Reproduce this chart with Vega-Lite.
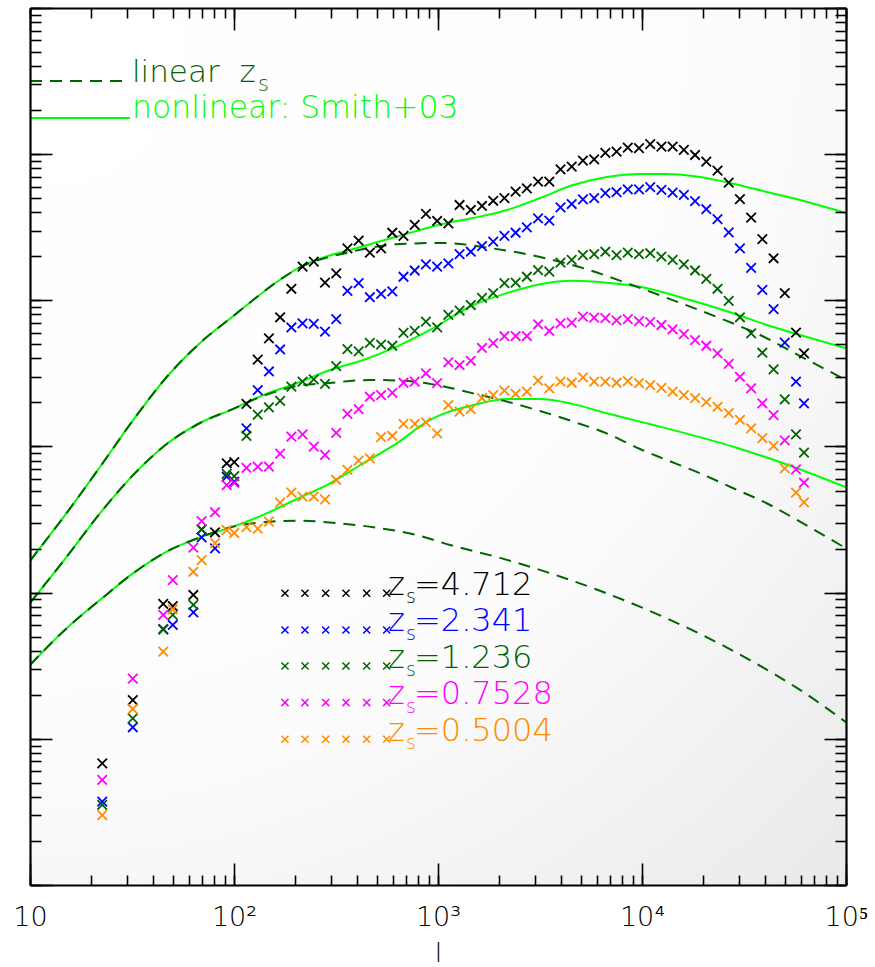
{
  "$schema": "https://vega.github.io/schema/vega-lite/v6.json",
  "width": 816,
  "height": 877,
  "autosize": {"type": "none"},
  "padding": {"left": 30, "top": 8, "right": 29, "bottom": 82},
  "background": "#ffffff",
  "config": {"view": {"stroke": null}, "font": "DejaVu Sans"},
  "datasets": {
    "pts": [
      {"z":"4.712","l":22.6,"P":6.8e-7},{"z":"4.712","l":31.9,"P":1.84e-6},{"z":"4.712","l":45.0,"P":8.37e-6},{"z":"4.712","l":50.1,"P":8.10e-6},{"z":"4.712","l":63.2,"P":9.64e-6},{"z":"4.712","l":69.4,"P":2.71e-5},{"z":"4.712","l":80.7,"P":2.59e-5},{"z":"4.712","l":92.1,"P":7.68e-5},{"z":"4.712","l":100.3,"P":7.83e-5},
      {"z":"4.712","l":115.1,"P":1.96e-4},{"z":"4.712","l":130.7,"P":3.93e-4},{"z":"4.712","l":148.3,"P":5.50e-4},{"z":"4.712","l":168.3,"P":7.66e-4},{"z":"4.712","l":191.1,"P":1.20e-3},{"z":"4.712","l":216.8,"P":1.70e-3},{"z":"4.712","l":246.1,"P":1.84e-3},{"z":"4.712","l":279.3,"P":1.32e-3},{"z":"4.712","l":317.0,"P":1.53e-3},{"z":"4.712","l":359.8,"P":2.27e-3},
      {"z":"4.712","l":408.3,"P":2.56e-3},{"z":"4.712","l":463.4,"P":2.12e-3},{"z":"4.712","l":525.9,"P":2.27e-3},{"z":"4.712","l":597.0,"P":2.90e-3},{"z":"4.712","l":677.4,"P":2.76e-3},{"z":"4.712","l":768.8,"P":3.28e-3},{"z":"4.712","l":872.6,"P":3.90e-3},{"z":"4.712","l":990.3,"P":3.49e-3},{"z":"4.712","l":1124,"P":3.36e-3},{"z":"4.712","l":1276,"P":4.49e-3},
      {"z":"4.712","l":1448,"P":4.15e-3},{"z":"4.712","l":1643,"P":4.42e-3},{"z":"4.712","l":1865,"P":4.80e-3},{"z":"4.712","l":2116,"P":5.00e-3},{"z":"4.712","l":2402,"P":5.54e-3},{"z":"4.712","l":2726,"P":5.84e-3},{"z":"4.712","l":3094,"P":6.48e-3},{"z":"4.712","l":3512,"P":6.48e-3},{"z":"4.712","l":3986,"P":7.88e-3},{"z":"4.712","l":4523,"P":8.21e-3},
      {"z":"4.712","l":5133,"P":9.03e-3},{"z":"4.712","l":5826,"P":9.22e-3},{"z":"4.712","l":6612,"P":1.02e-2},{"z":"4.712","l":7504,"P":1.04e-2},{"z":"4.712","l":8517,"P":1.11e-2},{"z":"4.712","l":9666,"P":1.10e-2},{"z":"4.712","l":10970,"P":1.17e-2},{"z":"4.712","l":12450,"P":1.125e-2},{"z":"4.712","l":14130,"P":1.125e-2},{"z":"4.712","l":16040,"P":1.07e-2},
      {"z":"4.712","l":18200,"P":9.87e-3},{"z":"4.712","l":20660,"P":8.88e-3},{"z":"4.712","l":23450,"P":7.71e-3},{"z":"4.712","l":26610,"P":6.38e-3},{"z":"4.712","l":30200,"P":4.93e-3},{"z":"4.712","l":34270,"P":3.68e-3},{"z":"4.712","l":38900,"P":2.62e-3},{"z":"4.712","l":44150,"P":1.94e-3},{"z":"4.712","l":50110,"P":1.12e-3},{"z":"4.712","l":56870,"P":6.01e-4},{"z":"4.712","l":62250,"P":4.34e-4},

      {"z":"2.341","l":22.6,"P":3.72e-7},{"z":"2.341","l":31.9,"P":1.20e-6},{"z":"2.341","l":45.0,"P":5.62e-6},{"z":"2.341","l":50.1,"P":6.01e-6},{"z":"2.341","l":63.2,"P":7.34e-6},{"z":"2.341","l":69.4,"P":2.39e-5},{"z":"2.341","l":80.7,"P":2.01e-5},{"z":"2.341","l":92.1,"P":6.21e-5},{"z":"2.341","l":100.3,"P":5.74e-5},
      {"z":"2.341","l":115.1,"P":1.33e-4},{"z":"2.341","l":130.7,"P":2.43e-4},{"z":"2.341","l":148.3,"P":3.26e-4},{"z":"2.341","l":168.3,"P":4.61e-4},{"z":"2.341","l":191.1,"P":6.52e-4},{"z":"2.341","l":216.8,"P":6.96e-4},{"z":"2.341","l":246.1,"P":6.89e-4},{"z":"2.341","l":279.3,"P":6.10e-4},{"z":"2.341","l":317.0,"P":7.45e-4},{"z":"2.341","l":359.8,"P":1.16e-3},
      {"z":"2.341","l":408.3,"P":1.31e-3},{"z":"2.341","l":463.4,"P":1.05e-3},{"z":"2.341","l":525.9,"P":1.105e-3},{"z":"2.341","l":597.0,"P":1.15e-3},{"z":"2.341","l":677.4,"P":1.45e-3},{"z":"2.341","l":768.8,"P":1.60e-3},{"z":"2.341","l":872.6,"P":1.76e-3},{"z":"2.341","l":990.3,"P":1.70e-3},{"z":"2.341","l":1124,"P":1.79e-3},{"z":"2.341","l":1276,"P":2.07e-3},
      {"z":"2.341","l":1448,"P":2.15e-3},{"z":"2.341","l":1643,"P":2.35e-3},{"z":"2.341","l":1865,"P":2.52e-3},{"z":"2.341","l":2116,"P":2.76e-3},{"z":"2.341","l":2402,"P":2.90e-3},{"z":"2.341","l":2726,"P":3.16e-3},{"z":"2.341","l":3094,"P":3.64e-3},{"z":"2.341","l":3512,"P":3.51e-3},{"z":"2.341","l":3986,"P":4.33e-3},{"z":"2.341","l":4523,"P":4.56e-3},
      {"z":"2.341","l":5133,"P":4.91e-3},{"z":"2.341","l":5826,"P":5.00e-3},{"z":"2.341","l":6612,"P":5.42e-3},{"z":"2.341","l":7504,"P":5.49e-3},{"z":"2.341","l":8517,"P":5.75e-3},{"z":"2.341","l":9666,"P":5.75e-3},{"z":"2.341","l":10970,"P":5.94e-3},{"z":"2.341","l":12450,"P":5.69e-3},{"z":"2.341","l":14130,"P":5.45e-3},{"z":"2.341","l":16040,"P":5.26e-3},
      {"z":"2.341","l":18200,"P":4.78e-3},{"z":"2.341","l":20660,"P":4.20e-3},{"z":"2.341","l":23450,"P":3.60e-3},{"z":"2.341","l":26610,"P":2.92e-3},{"z":"2.341","l":30200,"P":2.27e-3},{"z":"2.341","l":34270,"P":1.67e-3},{"z":"2.341","l":38900,"P":1.18e-3},{"z":"2.341","l":44150,"P":8.72e-4},{"z":"2.341","l":50110,"P":5.13e-4},{"z":"2.341","l":56870,"P":2.78e-4},{"z":"2.341","l":62250,"P":1.97e-4},

      {"z":"1.236","l":22.6,"P":3.53e-7},{"z":"1.236","l":31.9,"P":1.38e-6},{"z":"1.236","l":45.0,"P":5.62e-6},{"z":"1.236","l":50.1,"P":7.04e-6},{"z":"1.236","l":63.2,"P":8.24e-6},{"z":"1.236","l":69.4,"P":2.70e-5},{"z":"1.236","l":92.1,"P":6.49e-5},{"z":"1.236","l":100.3,"P":6.28e-5},
      {"z":"1.236","l":115.1,"P":1.18e-4},{"z":"1.236","l":130.7,"P":1.65e-4},{"z":"1.236","l":148.3,"P":1.85e-4},{"z":"1.236","l":168.3,"P":2.05e-4},{"z":"1.236","l":191.1,"P":2.57e-4},{"z":"1.236","l":216.8,"P":2.78e-4},{"z":"1.236","l":246.1,"P":2.88e-4},{"z":"1.236","l":279.3,"P":2.68e-4},{"z":"1.236","l":317.0,"P":3.55e-4},{"z":"1.236","l":359.8,"P":4.63e-4},
      {"z":"1.236","l":408.3,"P":4.47e-4},{"z":"1.236","l":463.4,"P":5.12e-4},{"z":"1.236","l":525.9,"P":4.97e-4},{"z":"1.236","l":597.0,"P":4.89e-4},{"z":"1.236","l":677.4,"P":5.98e-4},{"z":"1.236","l":768.8,"P":6.19e-4},{"z":"1.236","l":872.6,"P":7.14e-4},{"z":"1.236","l":990.3,"P":6.54e-4},{"z":"1.236","l":1124,"P":7.94e-4},{"z":"1.236","l":1276,"P":8.49e-4},
      {"z":"1.236","l":1448,"P":9.29e-4},{"z":"1.236","l":1643,"P":1.04e-3},{"z":"1.236","l":1865,"P":1.12e-3},{"z":"1.236","l":2116,"P":1.31e-3},{"z":"1.236","l":2402,"P":1.32e-3},{"z":"1.236","l":2726,"P":1.45e-3},{"z":"1.236","l":3094,"P":1.61e-3},{"z":"1.236","l":3512,"P":1.57e-3},{"z":"1.236","l":3986,"P":1.81e-3},{"z":"1.236","l":4523,"P":1.89e-3},
      {"z":"1.236","l":5133,"P":2.04e-3},{"z":"1.236","l":5826,"P":2.07e-3},{"z":"1.236","l":6612,"P":2.15e-3},{"z":"1.236","l":7504,"P":2.04e-3},{"z":"1.236","l":8517,"P":2.12e-3},{"z":"1.236","l":9666,"P":2.07e-3},{"z":"1.236","l":10970,"P":2.10e-3},{"z":"1.236","l":12450,"P":1.99e-3},{"z":"1.236","l":14130,"P":1.89e-3},{"z":"1.236","l":16040,"P":1.76e-3},
      {"z":"1.236","l":18200,"P":1.60e-3},{"z":"1.236","l":20660,"P":1.40e-3},{"z":"1.236","l":23450,"P":1.20e-3},{"z":"1.236","l":26610,"P":9.93e-4},{"z":"1.236","l":30200,"P":7.66e-4},{"z":"1.236","l":34270,"P":5.95e-4},{"z":"1.236","l":38900,"P":4.38e-4},{"z":"1.236","l":44150,"P":3.37e-4},{"z":"1.236","l":50110,"P":2.10e-4},{"z":"1.236","l":56870,"P":1.21e-4},{"z":"1.236","l":62250,"P":9.07e-5},

      {"z":"0.7528","l":22.6,"P":5.23e-7},{"z":"0.7528","l":31.9,"P":2.58e-6},{"z":"0.7528","l":45.0,"P":7.04e-6},{"z":"0.7528","l":50.1,"P":1.22e-5},{"z":"0.7528","l":63.2,"P":2.03e-5},{"z":"0.7528","l":69.4,"P":3.09e-5},{"z":"0.7528","l":80.7,"P":3.55e-5},{"z":"0.7528","l":92.1,"P":5.45e-5},{"z":"0.7528","l":100.3,"P":5.63e-5},
      {"z":"0.7528","l":115.1,"P":7.13e-5},{"z":"0.7528","l":130.7,"P":7.27e-5},{"z":"0.7528","l":148.3,"P":7.27e-5},{"z":"0.7528","l":168.3,"P":8.93e-5},{"z":"0.7528","l":191.1,"P":1.17e-4},{"z":"0.7528","l":216.8,"P":1.21e-4},{"z":"0.7528","l":246.1,"P":9.97e-5},{"z":"0.7528","l":279.3,"P":8.75e-5},{"z":"0.7528","l":317.0,"P":1.24e-4},{"z":"0.7528","l":359.8,"P":1.67e-4},
      {"z":"0.7528","l":408.3,"P":1.80e-4},{"z":"0.7528","l":463.4,"P":2.19e-4},{"z":"0.7528","l":525.9,"P":2.25e-4},{"z":"0.7528","l":597.0,"P":2.33e-4},{"z":"0.7528","l":677.4,"P":2.73e-4},{"z":"0.7528","l":768.8,"P":2.78e-4},{"z":"0.7528","l":872.6,"P":3.17e-4},{"z":"0.7528","l":990.3,"P":2.71e-4},{"z":"0.7528","l":1124,"P":3.77e-4},{"z":"0.7528","l":1276,"P":3.61e-4},
      {"z":"0.7528","l":1448,"P":3.86e-4},{"z":"0.7528","l":1643,"P":4.72e-4},{"z":"0.7528","l":1865,"P":5.09e-4},{"z":"0.7528","l":2116,"P":5.68e-4},{"z":"0.7528","l":2402,"P":5.70e-4},{"z":"0.7528","l":2726,"P":5.70e-4},{"z":"0.7528","l":3094,"P":6.86e-4},{"z":"0.7528","l":3512,"P":6.17e-4},{"z":"0.7528","l":3986,"P":6.96e-4},{"z":"0.7528","l":4523,"P":7.03e-4},
      {"z":"0.7528","l":5133,"P":7.73e-4},{"z":"0.7528","l":5826,"P":7.61e-4},{"z":"0.7528","l":6612,"P":7.55e-4},{"z":"0.7528","l":7504,"P":7.30e-4},{"z":"0.7528","l":8517,"P":7.43e-4},{"z":"0.7528","l":9666,"P":7.20e-4},{"z":"0.7528","l":10970,"P":7.09e-4},{"z":"0.7528","l":12450,"P":6.78e-4},{"z":"0.7528","l":14130,"P":6.34e-4},{"z":"0.7528","l":16040,"P":5.88e-4},
      {"z":"0.7528","l":18200,"P":5.35e-4},{"z":"0.7528","l":20660,"P":4.89e-4},{"z":"0.7528","l":23450,"P":4.34e-4},{"z":"0.7528","l":26610,"P":3.67e-4},{"z":"0.7528","l":30200,"P":3.00e-4},{"z":"0.7528","l":34270,"P":2.50e-4},{"z":"0.7528","l":38900,"P":1.97e-4},{"z":"0.7528","l":44150,"P":1.64e-4},{"z":"0.7528","l":50110,"P":1.10e-4},{"z":"0.7528","l":56870,"P":6.98e-5},{"z":"0.7528","l":62250,"P":5.65e-5},

      {"z":"0.5004","l":22.6,"P":3.01e-7},{"z":"0.5004","l":31.9,"P":1.60e-6},{"z":"0.5004","l":45.0,"P":3.95e-6},{"z":"0.5004","l":50.1,"P":7.70e-6},{"z":"0.5004","l":63.2,"P":1.39e-5},{"z":"0.5004","l":69.4,"P":1.67e-5},{"z":"0.5004","l":80.7,"P":2.18e-5},{"z":"0.5004","l":92.1,"P":2.68e-5},{"z":"0.5004","l":100.3,"P":2.56e-5},
      {"z":"0.5004","l":115.1,"P":2.81e-5},{"z":"0.5004","l":130.7,"P":2.74e-5},{"z":"0.5004","l":148.3,"P":3.06e-5},{"z":"0.5004","l":168.3,"P":4.13e-5},{"z":"0.5004","l":191.1,"P":4.83e-5},{"z":"0.5004","l":216.8,"P":4.54e-5},{"z":"0.5004","l":246.1,"P":4.54e-5},{"z":"0.5004","l":279.3,"P":4.35e-5},{"z":"0.5004","l":317.0,"P":5.90e-5},{"z":"0.5004","l":359.8,"P":6.91e-5},
      {"z":"0.5004","l":408.3,"P":8.00e-5},{"z":"0.5004","l":463.4,"P":8.30e-5},{"z":"0.5004","l":525.9,"P":1.16e-4},{"z":"0.5004","l":597.0,"P":1.18e-4},{"z":"0.5004","l":677.4,"P":1.43e-4},{"z":"0.5004","l":768.8,"P":1.43e-4},{"z":"0.5004","l":872.6,"P":1.46e-4},{"z":"0.5004","l":990.3,"P":1.23e-4},{"z":"0.5004","l":1124,"P":1.92e-4},{"z":"0.5004","l":1276,"P":1.73e-4},
      {"z":"0.5004","l":1448,"P":1.80e-4},{"z":"0.5004","l":1643,"P":2.14e-4},{"z":"0.5004","l":1865,"P":2.25e-4},{"z":"0.5004","l":2116,"P":2.41e-4},{"z":"0.5004","l":2402,"P":2.29e-4},{"z":"0.5004","l":2726,"P":2.37e-4},{"z":"0.5004","l":3094,"P":2.82e-4},{"z":"0.5004","l":3512,"P":2.50e-4},{"z":"0.5004","l":3986,"P":2.78e-4},{"z":"0.5004","l":4523,"P":2.73e-4},
      {"z":"0.5004","l":5133,"P":2.97e-4},{"z":"0.5004","l":5826,"P":2.78e-4},{"z":"0.5004","l":6612,"P":2.78e-4},{"z":"0.5004","l":7504,"P":2.73e-4},{"z":"0.5004","l":8517,"P":2.80e-4},{"z":"0.5004","l":9666,"P":2.71e-4},{"z":"0.5004","l":10970,"P":2.63e-4},{"z":"0.5004","l":12450,"P":2.52e-4},{"z":"0.5004","l":14130,"P":2.37e-4},{"z":"0.5004","l":16040,"P":2.25e-4},
      {"z":"0.5004","l":18200,"P":2.14e-4},{"z":"0.5004","l":20660,"P":2.01e-4},{"z":"0.5004","l":23450,"P":1.87e-4},{"z":"0.5004","l":26610,"P":1.69e-4},{"z":"0.5004","l":30200,"P":1.52e-4},{"z":"0.5004","l":34270,"P":1.33e-4},{"z":"0.5004","l":38900,"P":1.14e-4},{"z":"0.5004","l":44150,"P":1.01e-4},{"z":"0.5004","l":50110,"P":7.09e-5},{"z":"0.5004","l":56870,"P":4.83e-5},{"z":"0.5004","l":62250,"P":4.15e-5}
    ],
    "nl": [
      {"c":"a","l":10,"P":1.65e-5},{"c":"a","l":15.13,"P":3.51e-5},{"c":"a","l":22.03,"P":7.24e-5},{"c":"a","l":32.09,"P":1.52e-4},{"c":"a","l":46.78,"P":2.99e-4},{"c":"a","l":68.13,"P":5.11e-4},{"c":"a","l":99.2,"P":7.81e-4},{"c":"a","l":119.8,"P":9.665e-4},{"c":"a","l":158.9,"P":1.31e-3},{"c":"a","l":210.6,"P":1.69e-3},{"c":"a","l":279.3,"P":1.98e-3},{"c":"a","l":370.4,"P":2.21e-3},{"c":"a","l":629.5,"P":2.73e-3},{"c":"a","l":1107,"P":3.38e-3},{"c":"a","l":1484,"P":3.66e-3},{"c":"a","l":2179,"P":4.15e-3},{"c":"a","l":3162,"P":5.01e-3},{"c":"a","l":4589,"P":6.15e-3},{"c":"a","l":6737,"P":6.98e-3},{"c":"a","l":9777,"P":7.32e-3},{"c":"a","l":13265,"P":7.32e-3},{"c":"a","l":19246,"P":6.98e-3},{"c":"a","l":27010,"P":6.35e-3},{"c":"a","l":41000,"P":5.51e-3},{"c":"a","l":59500,"P":4.86e-3},{"c":"a","l":100000,"P":3.96e-3},
      {"c":"b","l":10,"P":8.50e-6},{"c":"b","l":15.13,"P":1.76e-5},{"c":"b","l":22.03,"P":3.49e-5},{"c":"b","l":32.09,"P":6.39e-5},{"c":"b","l":46.78,"P":1.04e-4},{"c":"b","l":68.13,"P":1.448e-4},{"c":"b","l":99.2,"P":1.81e-4},{"c":"b","l":139.2,"P":2.25e-4},{"c":"b","l":203,"P":2.71e-4},{"c":"b","l":295.6,"P":3.34e-4},{"c":"b","l":430.4,"P":3.91e-4},{"c":"b","l":627.4,"P":4.82e-4},{"c":"b","l":913.7,"P":6.27e-4},{"c":"b","l":1489,"P":9.29e-4},{"c":"b","l":2172,"P":1.12e-3},{"c":"b","l":3162,"P":1.29e-3},{"c":"b","l":4604,"P":1.36e-3},{"c":"b","l":6714,"P":1.32e-3},{"c":"b","l":9777,"P":1.24e-3},{"c":"b","l":17190,"P":1.005e-3},{"c":"b","l":28020,"P":8.15e-4},{"c":"b","l":40870,"P":6.78e-4},{"c":"b","l":59500,"P":5.79e-4},{"c":"b","l":100000,"P":4.70e-4},
      {"c":"c","l":10,"P":3.20e-6},{"c":"c","l":15.13,"P":5.71e-6},{"c":"c","l":22.03,"P":8.91e-6},{"c":"c","l":32.09,"P":1.36e-5},{"c":"c","l":46.78,"P":1.91e-5},{"c":"c","l":68.13,"P":2.39e-5},{"c":"c","l":99.2,"P":2.83e-5},{"c":"c","l":141.9,"P":3.45e-5},{"c":"c","l":205.9,"P":4.41e-5},{"c":"c","l":295.6,"P":5.60e-5},{"c":"c","l":430.4,"P":7.68e-5},{"c":"c","l":627.4,"P":1.05e-4},{"c":"c","l":913.7,"P":1.52e-4},{"c":"c","l":1023,"P":1.64e-4},{"c":"c","l":1489,"P":1.92e-4},{"c":"c","l":2172,"P":2.11e-4},{"c":"c","l":3162,"P":2.11e-4},{"c":"c","l":4604,"P":1.95e-4},{"c":"c","l":6714,"P":1.69e-4},{"c":"c","l":9777,"P":1.48e-4},{"c":"c","l":13220,"P":1.33e-4},{"c":"c","l":28020,"P":9.97e-5},{"c":"c","l":49270,"P":7.68e-5},{"c":"c","l":100000,"P":5.26e-5}
    ],
    "lin": [
      {"c":"a","l":10,"P":1.65e-5},{"c":"a","l":15.13,"P":3.51e-5},{"c":"a","l":22.03,"P":7.24e-5},{"c":"a","l":32.09,"P":1.52e-4},{"c":"a","l":46.78,"P":2.99e-4},{"c":"a","l":68.13,"P":5.11e-4},{"c":"a","l":99.2,"P":7.81e-4},{"c":"a","l":119.8,"P":9.665e-4},{"c":"a","l":158.9,"P":1.31e-3},{"c":"a","l":210.6,"P":1.68e-3},{"c":"a","l":370.4,"P":2.14e-3},{"c":"a","l":651.2,"P":2.43e-3},{"c":"a","l":1058,"P":2.47e-3},{"c":"a","l":1798,"P":2.28e-3},{"c":"a","l":3162,"P":1.98e-3},{"c":"a","l":5137,"P":1.66e-3},{"c":"a","l":8443,"P":1.31e-3},{"c":"a","l":13720,"P":1.02e-3},{"c":"a","l":23320,"P":7.69e-4},{"c":"a","l":37880,"P":5.79e-4},{"c":"a","l":59500,"P":4.16e-4},{"c":"a","l":100000,"P":2.85e-4},
      {"c":"b","l":10,"P":8.50e-6},{"c":"b","l":15.13,"P":1.76e-5},{"c":"b","l":22.03,"P":3.49e-5},{"c":"b","l":32.09,"P":6.39e-5},{"c":"b","l":46.78,"P":1.04e-4},{"c":"b","l":68.13,"P":1.448e-4},{"c":"b","l":99.2,"P":1.81e-4},{"c":"b","l":139.2,"P":2.22e-4},{"c":"b","l":203,"P":2.59e-4},{"c":"b","l":284.8,"P":2.71e-4},{"c":"b","l":464.2,"P":2.85e-4},{"c":"b","l":675.9,"P":2.82e-4},{"c":"b","l":985.4,"P":2.63e-4},{"c":"b","l":1489,"P":2.31e-4},{"c":"b","l":2172,"P":2.03e-4},{"c":"b","l":3162,"P":1.75e-4},{"c":"b","l":4604,"P":1.48e-4},{"c":"b","l":6714,"P":1.23e-4},{"c":"b","l":9777,"P":9.61e-5},{"c":"b","l":13220,"P":8.09e-5},{"c":"b","l":19246,"P":6.56e-5},{"c":"b","l":28020,"P":5.18e-5},{"c":"b","l":40870,"P":4.09e-5},{"c":"b","l":59500,"P":3.06e-5},{"c":"b","l":100000,"P":2.01e-5},
      {"c":"c","l":10,"P":3.20e-6},{"c":"c","l":15.13,"P":5.71e-6},{"c":"c","l":22.03,"P":8.91e-6},{"c":"c","l":32.09,"P":1.36e-5},{"c":"c","l":46.78,"P":1.91e-5},{"c":"c","l":68.13,"P":2.39e-5},{"c":"c","l":99.2,"P":2.83e-5},{"c":"c","l":150.2,"P":3.06e-5},{"c":"c","l":203,"P":3.11e-5},{"c":"c","l":330.7,"P":2.98e-5},{"c":"c","l":519.6,"P":2.76e-5},{"c":"c","l":786.5,"P":2.48e-5},{"c":"c","l":1145,"P":2.12e-5},{"c":"c","l":2013,"P":1.73e-5},{"c":"c","l":3540,"P":1.36e-5},{"c":"c","l":6224,"P":1.03e-5},{"c":"c","l":10950,"P":7.49e-6},{"c":"c","l":19246,"P":5.22e-6},{"c":"c","l":33830,"P":3.46e-6},{"c":"c","l":59500,"P":2.16e-6},{"c":"c","l":100000,"P":1.30e-6}
    ],
    "keylin": [
      {"k":"dash","l":10,"P":0.03166},{"k":"dash","l":30.92,"P":0.03166}
    ],
    "keynl": [
      {"k":"solid","l":10,"P":0.01768},{"k":"solid","l":30.92,"P":0.01768}
    ],
    "lgx": [
      {"z":"4.712","l":177.8,"P":9.90e-6},{"z":"4.712","l":222.8,"P":9.90e-6},{"z":"4.712","l":281.5,"P":9.90e-6},{"z":"4.712","l":354,"P":9.90e-6},{"z":"4.712","l":447.2,"P":9.90e-6},{"z":"4.712","l":560.4,"P":9.90e-6},
      {"z":"2.341","l":177.8,"P":5.55e-6},{"z":"2.341","l":222.8,"P":5.55e-6},{"z":"2.341","l":281.5,"P":5.55e-6},{"z":"2.341","l":354,"P":5.55e-6},{"z":"2.341","l":447.2,"P":5.55e-6},{"z":"2.341","l":560.4,"P":5.55e-6},
      {"z":"1.236","l":177.8,"P":3.15e-6},{"z":"1.236","l":222.8,"P":3.15e-6},{"z":"1.236","l":281.5,"P":3.15e-6},{"z":"1.236","l":354,"P":3.15e-6},{"z":"1.236","l":447.2,"P":3.15e-6},{"z":"1.236","l":560.4,"P":3.15e-6},
      {"z":"0.7528","l":177.8,"P":1.77e-6},{"z":"0.7528","l":222.8,"P":1.77e-6},{"z":"0.7528","l":281.5,"P":1.77e-6},{"z":"0.7528","l":354,"P":1.77e-6},{"z":"0.7528","l":447.2,"P":1.77e-6},{"z":"0.7528","l":560.4,"P":1.77e-6},
      {"z":"0.5004","l":177.8,"P":9.93e-7},{"z":"0.5004","l":222.8,"P":9.93e-7},{"z":"0.5004","l":281.5,"P":9.93e-7},{"z":"0.5004","l":354,"P":9.93e-7},{"z":"0.5004","l":447.2,"P":9.93e-7},{"z":"0.5004","l":560.4,"P":9.93e-7}
    ],
    "lgt": [
      {"z":"4.712","part":"z","t":"z","l":568.8,"P":9.64e-6},{"z":"4.712","part":"s","t":"s","l":696.6,"P":8.50e-6},{"z":"4.712","part":"v","t":"=4.712","l":762.7,"P":9.64e-6},
      {"z":"2.341","part":"z","t":"z","l":568.8,"P":5.43e-6},{"z":"2.341","part":"s","t":"s","l":696.6,"P":4.78e-6},{"z":"2.341","part":"v","t":"=2.341","l":762.7,"P":5.43e-6},
      {"z":"1.236","part":"z","t":"z","l":568.8,"P":3.05e-6},{"z":"1.236","part":"s","t":"s","l":696.6,"P":2.69e-6},{"z":"1.236","part":"v","t":"=1.236","l":762.7,"P":3.05e-6},
      {"z":"0.7528","part":"z","t":"z","l":568.8,"P":1.72e-6},{"z":"0.7528","part":"s","t":"s","l":696.6,"P":1.51e-6},{"z":"0.7528","part":"v","t":"=0.7528","l":762.7,"P":1.72e-6},
      {"z":"0.5004","part":"z","t":"z","l":568.8,"P":9.67e-7},{"z":"0.5004","part":"s","t":"s","l":696.6,"P":8.52e-7},{"z":"0.5004","part":"v","t":"=0.5004","l":762.7,"P":9.67e-7}
    ],
    "keyt": [
      {"part":"lin","t":"linear\u00a0 z","l":31.62,"P":0.03116},
      {"part":"sub","t":"s","l":131.1,"P":0.02705},
      {"part":"nl","t":"nonlinear: Smith+03","l":31.62,"P":0.01754}
    ]
  },
  "layer": [
    {
      "data": {"values": [{"a": 1}]},
      "mark": {"type": "rect", "stroke": null, "fill": {"gradient": "radial", "x1": 0.05, "y1": 0.05, "r1": 0, "x2": 0.05, "y2": 0.05, "r2": 1.35, "stops": [{"offset": 0, "color": "#ffffff"}, {"offset": 0.6, "color": "#fcfcfc"}, {"offset": 1, "color": "#e8e8e8"}]}},
      "encoding": {
        "x": {"datum": 10, "type": "quantitative", "scale": {"type": "log", "domain": [10, 100000], "nice": false}, "axis": null},
        "x2": {"datum": 100000},
        "y": {"datum": 1e-7, "type": "quantitative", "scale": {"type": "log", "domain": [1e-7, 0.1], "nice": false}, "axis": null},
        "y2": {"datum": 0.1}
      }
    },
    {
      "data": {"name": "nl"},
      "mark": {"type": "line", "color": "#00ff00", "strokeWidth": 2, "interpolate": "monotone", "clip": true},
      "encoding": {
        "x": {"field": "l", "type": "quantitative", "scale": {"type": "log", "domain": [10, 100000], "nice": false},
          "axis": {"orient": "top", "values": [10,20,30,40,50,60,70,80,90,100,200,300,400,500,600,700,800,900,1000,2000,3000,4000,5000,6000,7000,8000,9000,10000,20000,30000,40000,50000,60000,70000,80000,90000,100000],
            "labels": false, "title": null, "grid": false, "tickSize": -10, "tickColor": "#000000", "tickWidth": 1.6, "domainColor": "#000000", "domainWidth": 2.2, "zindex": 2}},
        "y": {"field": "P", "type": "quantitative", "scale": {"type": "log", "domain": [1e-7, 0.1], "nice": false},
          "axis": {"orient": "right", "values": [1e-7,2e-7,3e-7,4e-7,5e-7,6e-7,7e-7,8e-7,9e-7,1e-6,2e-6,3e-6,4e-6,5e-6,6e-6,7e-6,8e-6,9e-6,1e-5,2e-5,3e-5,4e-5,5e-5,6e-5,7e-5,8e-5,9e-5,1e-4,2e-4,3e-4,4e-4,5e-4,6e-4,7e-4,8e-4,9e-4,0.001,0.002,0.003,0.004,0.005,0.006,0.007,0.008,0.009,0.01,0.02,0.03,0.04,0.05,0.06,0.07,0.08,0.09,0.1],
            "labels": false, "title": null, "grid": false, "tickSize": -11, "tickColor": "#000000", "tickWidth": 1.6, "domainColor": "#000000", "domainWidth": 2.2, "zindex": 2}},
        "detail": {"field": "c", "type": "nominal"}
      }
    },
    {
      "data": {"name": "lin"},
      "mark": {"type": "line", "color": "#006400", "strokeWidth": 2, "strokeDash": [12, 8], "interpolate": "monotone", "clip": true},
      "encoding": {
        "x": {"field": "l", "type": "quantitative", "scale": {"type": "log", "domain": [10, 100000], "nice": false},
          "axis": {"orient": "top", "values": [10,100,1000,10000,100000], "labels": false, "title": null, "grid": false, "tickSize": -22, "tickColor": "#000000", "tickWidth": 1.6, "domain": false, "zindex": 2}},
        "y": {"field": "P", "type": "quantitative", "scale": {"type": "log", "domain": [1e-7, 0.1], "nice": false},
          "axis": {"orient": "right", "values": [1e-7,1e-6,1e-5,1e-4,0.001,0.01,0.1], "labels": false, "title": null, "grid": false, "tickSize": -22, "tickColor": "#000000", "tickWidth": 1.6, "domain": false, "zindex": 2}},
        "detail": {"field": "c", "type": "nominal"}
      }
    },
    {
      "data": {"name": "pts"},
      "mark": {"type": "point", "shape": "M-1,-1L1,1M-1,1L1,-1", "filled": false, "size": 90, "strokeWidth": 1.8, "opacity": 1},
      "encoding": {
        "x": {"field": "l", "type": "quantitative", "scale": {"type": "log", "domain": [10, 100000], "nice": false},
          "axis": {"orient": "bottom", "values": [10,20,30,40,50,60,70,80,90,100,200,300,400,500,600,700,800,900,1000,2000,3000,4000,5000,6000,7000,8000,9000,10000,20000,30000,40000,50000,60000,70000,80000,90000,100000],
            "labelExpr": "datum.value == 10 ? '10' : datum.value == 100 ? '10²' : datum.value == 1000 ? '10³' : datum.value == 10000 ? '10⁴' : datum.value == 100000 ? '10⁵' : ''",
            "labelFont": "DejaVu Sans", "labelFontSize": 27, "labelFontWeight": 200, "labelColor": "#000000", "labelBaseline": "alphabetic", "labelPadding": 50, "labelOverlap": false, "labelFlush": false, "labelBound": false,
            "grid": false, "tickSize": -10, "tickColor": "#000000", "tickWidth": 1.6, "domainColor": "#000000", "domainWidth": 2.2, "zindex": 2,
            "title": "l", "titleFont": "DejaVu Sans", "titleFontSize": 27, "titleFontWeight": 200, "titleColor": "#000000", "titleBaseline": "alphabetic", "titleY": 76}},
        "y": {"field": "P", "type": "quantitative", "scale": {"type": "log", "domain": [1e-7, 0.1], "nice": false},
          "axis": {"orient": "left", "values": [1e-7,2e-7,3e-7,4e-7,5e-7,6e-7,7e-7,8e-7,9e-7,1e-6,2e-6,3e-6,4e-6,5e-6,6e-6,7e-6,8e-6,9e-6,1e-5,2e-5,3e-5,4e-5,5e-5,6e-5,7e-5,8e-5,9e-5,1e-4,2e-4,3e-4,4e-4,5e-4,6e-4,7e-4,8e-4,9e-4,0.001,0.002,0.003,0.004,0.005,0.006,0.007,0.008,0.009,0.01,0.02,0.03,0.04,0.05,0.06,0.07,0.08,0.09,0.1],
            "labels": false, "title": null, "grid": false, "tickSize": -11, "tickColor": "#000000", "tickWidth": 1.6, "domainColor": "#000000", "domainWidth": 2.2, "zindex": 2}},
        "color": {"field": "z", "type": "nominal", "scale": {"domain": ["4.712","2.341","1.236","0.7528","0.5004"], "range": ["#000000","#0000ff","#006400","#ff00ff","#ff8c00"]}, "legend": null}
      }
    },
    {
      "data": {"name": "keylin"},
      "mark": {"type": "line", "color": "#006400", "strokeWidth": 2, "strokeDash": [12, 8]},
      "encoding": {
        "x": {"field": "l", "type": "quantitative", "scale": {"type": "log", "domain": [10, 100000], "nice": false},
          "axis": {"orient": "bottom", "values": [10,100,1000,10000,100000], "labels": false, "title": null, "grid": false, "tickSize": -22, "tickColor": "#000000", "tickWidth": 1.6, "domain": false, "zindex": 2}},
        "y": {"field": "P", "type": "quantitative", "scale": {"type": "log", "domain": [1e-7, 0.1], "nice": false},
          "axis": {"orient": "left", "values": [1e-7,1e-6,1e-5,1e-4,0.001,0.01,0.1], "labels": false, "title": null, "grid": false, "tickSize": -22, "tickColor": "#000000", "tickWidth": 1.6, "domain": false, "zindex": 2}}
      }
    },
    {
      "data": {"name": "keynl"},
      "mark": {"type": "line", "color": "#00ff00", "strokeWidth": 2},
      "encoding": {
        "x": {"field": "l", "type": "quantitative", "scale": {"type": "log", "domain": [10, 100000], "nice": false}, "axis": null},
        "y": {"field": "P", "type": "quantitative", "scale": {"type": "log", "domain": [1e-7, 0.1], "nice": false}, "axis": null}
      }
    },
    {
      "data": {"name": "lgx"},
      "mark": {"type": "point", "shape": "M-1,-1L1,1M-1,1L1,-1", "filled": false, "size": 50, "strokeWidth": 1.5, "opacity": 1},
      "encoding": {
        "x": {"field": "l", "type": "quantitative", "scale": {"type": "log", "domain": [10, 100000], "nice": false}, "axis": null},
        "y": {"field": "P", "type": "quantitative", "scale": {"type": "log", "domain": [1e-7, 0.1], "nice": false}, "axis": null},
        "color": {"field": "z", "type": "nominal", "scale": {"domain": ["4.712","2.341","1.236","0.7528","0.5004"], "range": ["#000000","#0000ff","#006400","#ff00ff","#ff8c00"]}, "legend": null}
      }
    },
    {
      "data": {"name": "lgt"},
      "transform": [{"filter": "datum.part != 's'"}],
      "mark": {"type": "text", "align": "left", "baseline": "alphabetic", "font": "DejaVu Sans", "fontSize": 32, "fontWeight": 200},
      "encoding": {
        "x": {"field": "l", "type": "quantitative", "scale": {"type": "log", "domain": [10, 100000], "nice": false}, "axis": null},
        "y": {"field": "P", "type": "quantitative", "scale": {"type": "log", "domain": [1e-7, 0.1], "nice": false}, "axis": null},
        "text": {"field": "t"},
        "color": {"field": "z", "type": "nominal", "scale": {"domain": ["4.712","2.341","1.236","0.7528","0.5004"], "range": ["#000000","#0000ff","#006400","#ff00ff","#ff8c00"]}, "legend": null}
      }
    },
    {
      "data": {"name": "lgt"},
      "transform": [{"filter": "datum.part == 's'"}],
      "mark": {"type": "text", "align": "left", "baseline": "alphabetic", "font": "DejaVu Sans", "fontSize": 19, "fontWeight": 200},
      "encoding": {
        "x": {"field": "l", "type": "quantitative", "scale": {"type": "log", "domain": [10, 100000], "nice": false}, "axis": null},
        "y": {"field": "P", "type": "quantitative", "scale": {"type": "log", "domain": [1e-7, 0.1], "nice": false}, "axis": null},
        "text": {"field": "t"},
        "color": {"field": "z", "type": "nominal", "scale": {"domain": ["4.712","2.341","1.236","0.7528","0.5004"], "range": ["#000000","#0000ff","#006400","#ff00ff","#ff8c00"]}, "legend": null}
      }
    },
    {
      "data": {"name": "keyt"},
      "transform": [{"filter": "datum.part == 'lin'"}],
      "mark": {"type": "text", "align": "left", "baseline": "alphabetic", "font": "DejaVu Sans", "fontSize": 31, "fontWeight": 200, "color": "#006400"},
      "encoding": {
        "x": {"field": "l", "type": "quantitative", "scale": {"type": "log", "domain": [10, 100000], "nice": false}, "axis": null},
        "y": {"field": "P", "type": "quantitative", "scale": {"type": "log", "domain": [1e-7, 0.1], "nice": false}, "axis": null},
        "text": {"field": "t"}
      }
    },
    {
      "data": {"name": "keyt"},
      "transform": [{"filter": "datum.part == 'sub'"}],
      "mark": {"type": "text", "align": "left", "baseline": "alphabetic", "font": "DejaVu Sans", "fontSize": 21, "fontWeight": 200, "color": "#006400"},
      "encoding": {
        "x": {"field": "l", "type": "quantitative", "scale": {"type": "log", "domain": [10, 100000], "nice": false}, "axis": null},
        "y": {"field": "P", "type": "quantitative", "scale": {"type": "log", "domain": [1e-7, 0.1], "nice": false}, "axis": null},
        "text": {"field": "t"}
      }
    },
    {
      "data": {"name": "keyt"},
      "transform": [{"filter": "datum.part == 'nl'"}],
      "mark": {"type": "text", "align": "left", "baseline": "alphabetic", "font": "DejaVu Sans", "fontSize": 31.5, "fontWeight": 200, "color": "#00ff00"},
      "encoding": {
        "x": {"field": "l", "type": "quantitative", "scale": {"type": "log", "domain": [10, 100000], "nice": false}, "axis": null},
        "y": {"field": "P", "type": "quantitative", "scale": {"type": "log", "domain": [1e-7, 0.1], "nice": false}, "axis": null},
        "text": {"field": "t"}
      }
    }
  ],
  "resolve": {"axis": {"x": "independent", "y": "independent"}}
}
